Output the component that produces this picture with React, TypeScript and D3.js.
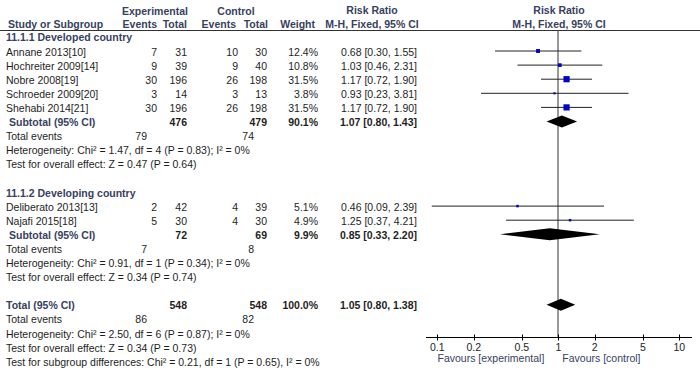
import { useEffect, useRef } from 'react';
import * as d3 from 'd3';

const studies = ['Annane 2013[10]', 'Hochreiter 2009[14]', 'Nobre 2008[19]', 'Schroeder 2009[20]', 'Shehabi 2014[21]', 'Deliberato 2013[13]', 'Najafi 2015[18]'];
const studyGroup = [0, 0, 0, 0, 0, 1, 1];
const expEvents = [7, 9, 30, 3, 30, 2, 5];
const expTotal = [31, 39, 196, 14, 196, 42, 30];
const ctrlEvents = [10, 9, 26, 3, 26, 4, 4];
const ctrlTotal = [30, 40, 198, 13, 198, 39, 30];
const weights = [12.4, 10.8, 31.5, 3.8, 31.5, 5.1, 4.9];
const rr = [0.68, 1.03, 1.17, 0.93, 1.17, 0.46, 1.25];
const rrLo = [0.3, 0.46, 0.72, 0.23, 0.72, 0.09, 0.37];
const rrHi = [1.55, 2.31, 1.9, 3.81, 1.9, 2.39, 4.21];

const groupNames = ['11.1.1 Developed country', '11.1.2 Developing country'];
const groupExpTotal = [476, 72];
const groupCtrlTotal = [479, 69];
const groupWeight = ['90.1%', '9.9%'];
const groupRR = [1.07, 0.85];
const groupLo = [0.8, 0.33];
const groupHi = [1.43, 2.2];
const groupExpEvents = [79, 7];
const groupCtrlEvents = [74, 8];
const groupHet = ['Heterogeneity: Chi² = 1.47, df = 4 (P = 0.83); I² = 0%', 'Heterogeneity: Chi² = 0.91, df = 1 (P = 0.34); I² = 0%'];
const groupTest = ['Test for overall effect: Z = 0.47 (P = 0.64)', 'Test for overall effect: Z = 0.34 (P = 0.74)'];

const total = { exp: 548, ctrl: 548, weight: '100.0%', rr: 1.05, lo: 0.8, hi: 1.38, expEv: 86, ctrlEv: 82 };
const totalNotes = [
  'Heterogeneity: Chi² = 2.50, df = 6 (P = 0.87); I² = 0%',
  'Test for overall effect: Z = 0.34 (P = 0.73)',
  'Test for subgroup differences: Chi² = 0.21, df = 1 (P = 0.65), I² = 0%',
];

const axisTicks = [0.1, 0.2, 0.5, 1, 2, 5, 10];

const HEAD = '#36415f';
const TXT = '#1e1e1e';
const FONT = '"Liberation Sans", Arial, sans-serif';
const FS = 10.5;

const fmt = (v: number) => v.toFixed(2);
const ci = (m: number, l: number, h: number) => `${fmt(m)} [${fmt(l)}, ${fmt(h)}]`;

// column right edges / anchors
const col = { study: 6, expEv: 157, expTot: 187, ctrlEv: 238, ctrlTot: 267, weight: 318, rrText: 417 };

export default function App() {
  const axisRef = useRef<SVGGElement>(null);

  const x = d3.scaleLog().domain([0.1, 10]).range([437.3, 679.3]);
  const yRow = d3.scaleLinear().domain([0, 1]).range([36.9, 51]);
  const size = d3.scaleSqrt().domain([0, 31.5]).range([0, 6.2]);
  const axisY = 337.5;

  useEffect(() => {
    if (!axisRef.current) return;
    const g = d3.select(axisRef.current);
    g.selectAll('*').remove();
    g.append('line').attr('x1', 426).attr('x2', 692).attr('y1', 0).attr('y2', 0).attr('stroke', '#000');
    g.selectAll('line.tick')
      .data(axisTicks)
      .enter()
      .append('line')
      .attr('class', 'tick')
      .attr('x1', (d) => Math.round(x(d)) + 0.5)
      .attr('x2', (d) => Math.round(x(d)) + 0.5)
      .attr('y1', -3)
      .attr('y2', 3)
      .attr('stroke', '#000');
    g.selectAll('text')
      .data(axisTicks)
      .enter()
      .append('text')
      .attr('x', (d) => x(d))
      .attr('y', 13)
      .attr('text-anchor', 'middle')
      .attr('font-size', FS)
      .attr('font-family', FONT)
      .attr('fill', TXT)
      .text((d) => String(d));
  }, []);

  // row layout
  const rows: { i: number; kind: string; idx: number }[] = [];
  let r = 0;
  for (let gI = 0; gI < groupNames.length; gI++) {
    rows.push({ i: r++, kind: 'group', idx: gI });
    studies.forEach((_, s) => {
      if (studyGroup[s] === gI) rows.push({ i: r++, kind: 'study', idx: s });
    });
    rows.push({ i: r++, kind: 'subtotal', idx: gI });
    rows.push({ i: r++, kind: 'events', idx: gI });
    rows.push({ i: r++, kind: 'het', idx: gI });
    rows.push({ i: r++, kind: 'test', idx: gI });
    r++;
  }
  rows.push({ i: r++, kind: 'total', idx: 0 });
  rows.push({ i: r++, kind: 'totalEvents', idx: 0 });
  totalNotes.forEach((_, k) => rows.push({ i: r++, kind: 'note', idx: k }));

  const T = (props: any) => <text fontFamily={FONT} fontSize={FS} fill={TXT} {...props} />;
  const B = (props: any) => <T fontWeight="bold" {...props} />;

  const diamond = (m: number, l: number, h: number, cy: number) => {
    const hh = 6;
    return `M${x(l)},${cy} L${x(m)},${cy - hh} L${x(h)},${cy} L${x(m)},${cy + hh} Z`;
  };

  const evCtrlX = col.ctrlEv + 16;
  const evExpX = col.expEv - 10;

  return (
    <svg width={700} height={368} style={{ position: 'absolute', left: 0, top: 0, background: '#fff' }}>
      {/* headers */}
      <B x={155} y={15} textAnchor="middle" fill={HEAD}>Experimental</B>
      <B x={236} y={15} textAnchor="middle" fill={HEAD}>Control</B>
      <B x={372} y={14} textAnchor="middle" fill={HEAD}>Risk Ratio</B>
      <B x={559} y={14} textAnchor="middle" fill={HEAD}>Risk Ratio</B>
      <B x={col.study + 2} y={28} fill={HEAD}>Study or Subgroup</B>
      <B x={col.expEv} y={28} textAnchor="end" fill={HEAD}>Events</B>
      <B x={col.expTot} y={28} textAnchor="end" fill={HEAD}>Total</B>
      <B x={col.ctrlEv - 2} y={28} textAnchor="end" fill={HEAD}>Events</B>
      <B x={col.ctrlTot + 1} y={28} textAnchor="end" fill={HEAD}>Total</B>
      <B x={col.weight - 3} y={28} textAnchor="end" fill={HEAD}>Weight</B>
      <B x={372} y={28} textAnchor="middle" fill={HEAD}>M-H, Fixed, 95% CI</B>
      <B x={559} y={28} textAnchor="middle" fill={HEAD}>M-H, Fixed, 95% CI</B>
      <line x1={0} x2={700} y1={30.5} y2={30.5} stroke="#333" />

      {/* null line */}
      <line x1={Math.round(x(1))} x2={Math.round(x(1))} y1={31} y2={axisY} stroke="#999" strokeWidth={2} />

      {rows.map((row) => {
        const cy = yRow(row.i);
        const by = cy + 4.5;
        if (row.kind === 'group')
          return <B key={row.i} x={col.study} y={by} fill={HEAD}>{groupNames[row.idx]}</B>;
        if (row.kind === 'study') {
          const s = row.idx;
          const w = size(weights[s]);
          return (
            <g key={row.i}>
              <T x={col.study} y={by}>{studies[s]}</T>
              <T x={col.expEv} y={by} textAnchor="end">{expEvents[s]}</T>
              <T x={col.expTot} y={by} textAnchor="end">{expTotal[s]}</T>
              <T x={col.ctrlEv} y={by} textAnchor="end">{ctrlEvents[s]}</T>
              <T x={col.ctrlTot} y={by} textAnchor="end">{ctrlTotal[s]}</T>
              <T x={col.weight} y={by} textAnchor="end">{weights[s].toFixed(1)}%</T>
              <T x={col.rrText} y={by} textAnchor="end">{ci(rr[s], rrLo[s], rrHi[s])}</T>
              <line x1={x(rrLo[s])} x2={x(rrHi[s])} y1={cy} y2={cy} stroke="#222" />
              <rect x={x(rr[s]) - w / 2} y={cy - w / 2} width={w} height={w} fill="#0000cc" />
            </g>
          );
        }
        if (row.kind === 'subtotal') {
          const g = row.idx;
          return (
            <g key={row.i}>
              <B x={col.study + 3} y={by} fill={HEAD}>Subtotal (95% CI)</B>
              <B x={col.expTot} y={by} textAnchor="end">{groupExpTotal[g]}</B>
              <B x={col.ctrlTot} y={by} textAnchor="end">{groupCtrlTotal[g]}</B>
              <B x={col.weight} y={by} textAnchor="end">{groupWeight[g]}</B>
              <B x={col.rrText} y={by} textAnchor="end">{ci(groupRR[g], groupLo[g], groupHi[g])}</B>
              <path d={diamond(groupRR[g], groupLo[g], groupHi[g], cy)} fill="#000" />
            </g>
          );
        }
        if (row.kind === 'events')
          return (
            <g key={row.i}>
              <T x={col.study} y={by}>Total events</T>
              <T x={evExpX} y={by} textAnchor="end">{groupExpEvents[row.idx]}</T>
              <T x={evCtrlX} y={by} textAnchor="end">{groupCtrlEvents[row.idx]}</T>
            </g>
          );
        if (row.kind === 'het') return <T key={row.i} x={col.study} y={by}>{groupHet[row.idx]}</T>;
        if (row.kind === 'test') return <T key={row.i} x={col.study} y={by}>{groupTest[row.idx]}</T>;
        if (row.kind === 'total')
          return (
            <g key={row.i}>
              <B x={col.study} y={by} fill={HEAD}>Total (95% CI)</B>
              <B x={col.expTot} y={by} textAnchor="end">{total.exp}</B>
              <B x={col.ctrlTot} y={by} textAnchor="end">{total.ctrl}</B>
              <B x={col.weight} y={by} textAnchor="end">{total.weight}</B>
              <B x={col.rrText} y={by} textAnchor="end">{ci(total.rr, total.lo, total.hi)}</B>
              <path d={diamond(total.rr, total.lo, total.hi, cy)} fill="#000" />
            </g>
          );
        if (row.kind === 'totalEvents')
          return (
            <g key={row.i}>
              <T x={col.study} y={by}>Total events</T>
              <T x={evExpX} y={by} textAnchor="end">{total.expEv}</T>
              <T x={evCtrlX} y={by} textAnchor="end">{total.ctrlEv}</T>
            </g>
          );
        return <T key={row.i} x={col.study} y={by}>{totalNotes[row.idx]}</T>;
      })}

      <g ref={axisRef} transform={`translate(0,${axisY})`} />
      <T x={x(1) - 14} y={axisY + 24} textAnchor="end" fill={HEAD}>Favours [experimental]</T>
      <T x={x(1) + 4} y={axisY + 24} fill={HEAD}>Favours [control]</T>
    </svg>
  );
}
